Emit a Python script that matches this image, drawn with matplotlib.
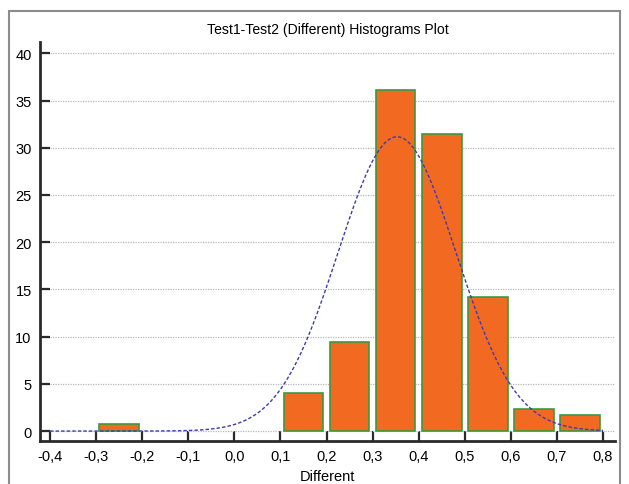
import numpy as np
import matplotlib
matplotlib.use('Agg')
import matplotlib.pyplot as plt
from matplotlib.patches import Rectangle

plt.rcParams['font.family'] = ['Liberation Sans', 'DejaVu Sans']

# histogram data (percent per 0.1 bin)
bin_left = [-0.3, -0.2, -0.1, 0.0, 0.1, 0.2, 0.3, 0.4, 0.5, 0.6, 0.7]
percent = [0.8, 0.0, 0.0, 0.0, 4.0, 9.4, 36.1, 31.5, 14.2, 2.3, 1.7]
bin_width = 0.1

# fitted normal curve parameters
fit_mean = 0.353
fit_sd = 0.128
fit_total = 100.0

xticks = [-0.4, -0.3, -0.2, -0.1, 0.0, 0.1, 0.2, 0.3, 0.4, 0.5, 0.6, 0.7, 0.8]
xticklabels = ['-0,4', '-0,3', '-0,2', '-0,1', '0,0', '0,1', '0,2', '0,3', '0,4', '0,5', '0,6', '0,7', '0,8']
yticks = [0, 5, 10, 15, 20, 25, 30, 35, 40]

fig = plt.figure(figsize=(6.29, 4.85), dpi=100)
ax = fig.add_axes([40/629, 43/485, (615-40)/629, (442-43)/485])

# outer frame
fig.patches.append(Rectangle((9/629, -0.1), (620-9)/629, 1.1 - 12/485,
                             transform=fig.transFigure, fill=False,
                             edgecolor='#8c8c8c', linewidth=1.5))

# bars (only the non-empty bins)
for left, h in zip(bin_left, percent):
    if h > 0:
        ax.bar(left + 0.05, h, width=0.086, color='#f26a22',
               edgecolor='#3c9a3c', linewidth=1.2, zorder=3)

xs = np.linspace(-0.4, 0.8, 400)
ys = fit_total * bin_width / (fit_sd * np.sqrt(2 * np.pi)) * np.exp(-(xs - fit_mean) ** 2 / (2 * fit_sd ** 2))
ax.plot(xs, ys, color='#3c3cb0', linestyle=(0, (2.5, 1.5)), linewidth=1.0, zorder=4)

ax.set_xlim(-0.4217, 0.826)
ax.set_ylim(-1.05, 41.2)
ax.set_xticks(xticks)
ax.set_xticklabels(xticklabels)
ax.set_yticks(yticks)

for s in ['top', 'right']:
    ax.spines[s].set_visible(False)
for s in ['left', 'bottom']:
    ax.spines[s].set_linewidth(2)
    ax.spines[s].set_color('#2a2a2a')

ax.tick_params(direction='in', length=7.5, width=1.6, color='#2a2a2a',
               labelsize=10.5, pad=6)
ax.yaxis.grid(True, linestyle=(0, (1, 1)), color='#b8b8b8', linewidth=0.9, zorder=0)
ax.set_axisbelow(True)

ax.set_title('Test1-Test2 (Different) Histograms Plot', fontsize=10.1, pad=6.5)
ax.set_xlabel('Different', fontsize=10.5, labelpad=4)

fig.savefig('out.png', dpi=100)
